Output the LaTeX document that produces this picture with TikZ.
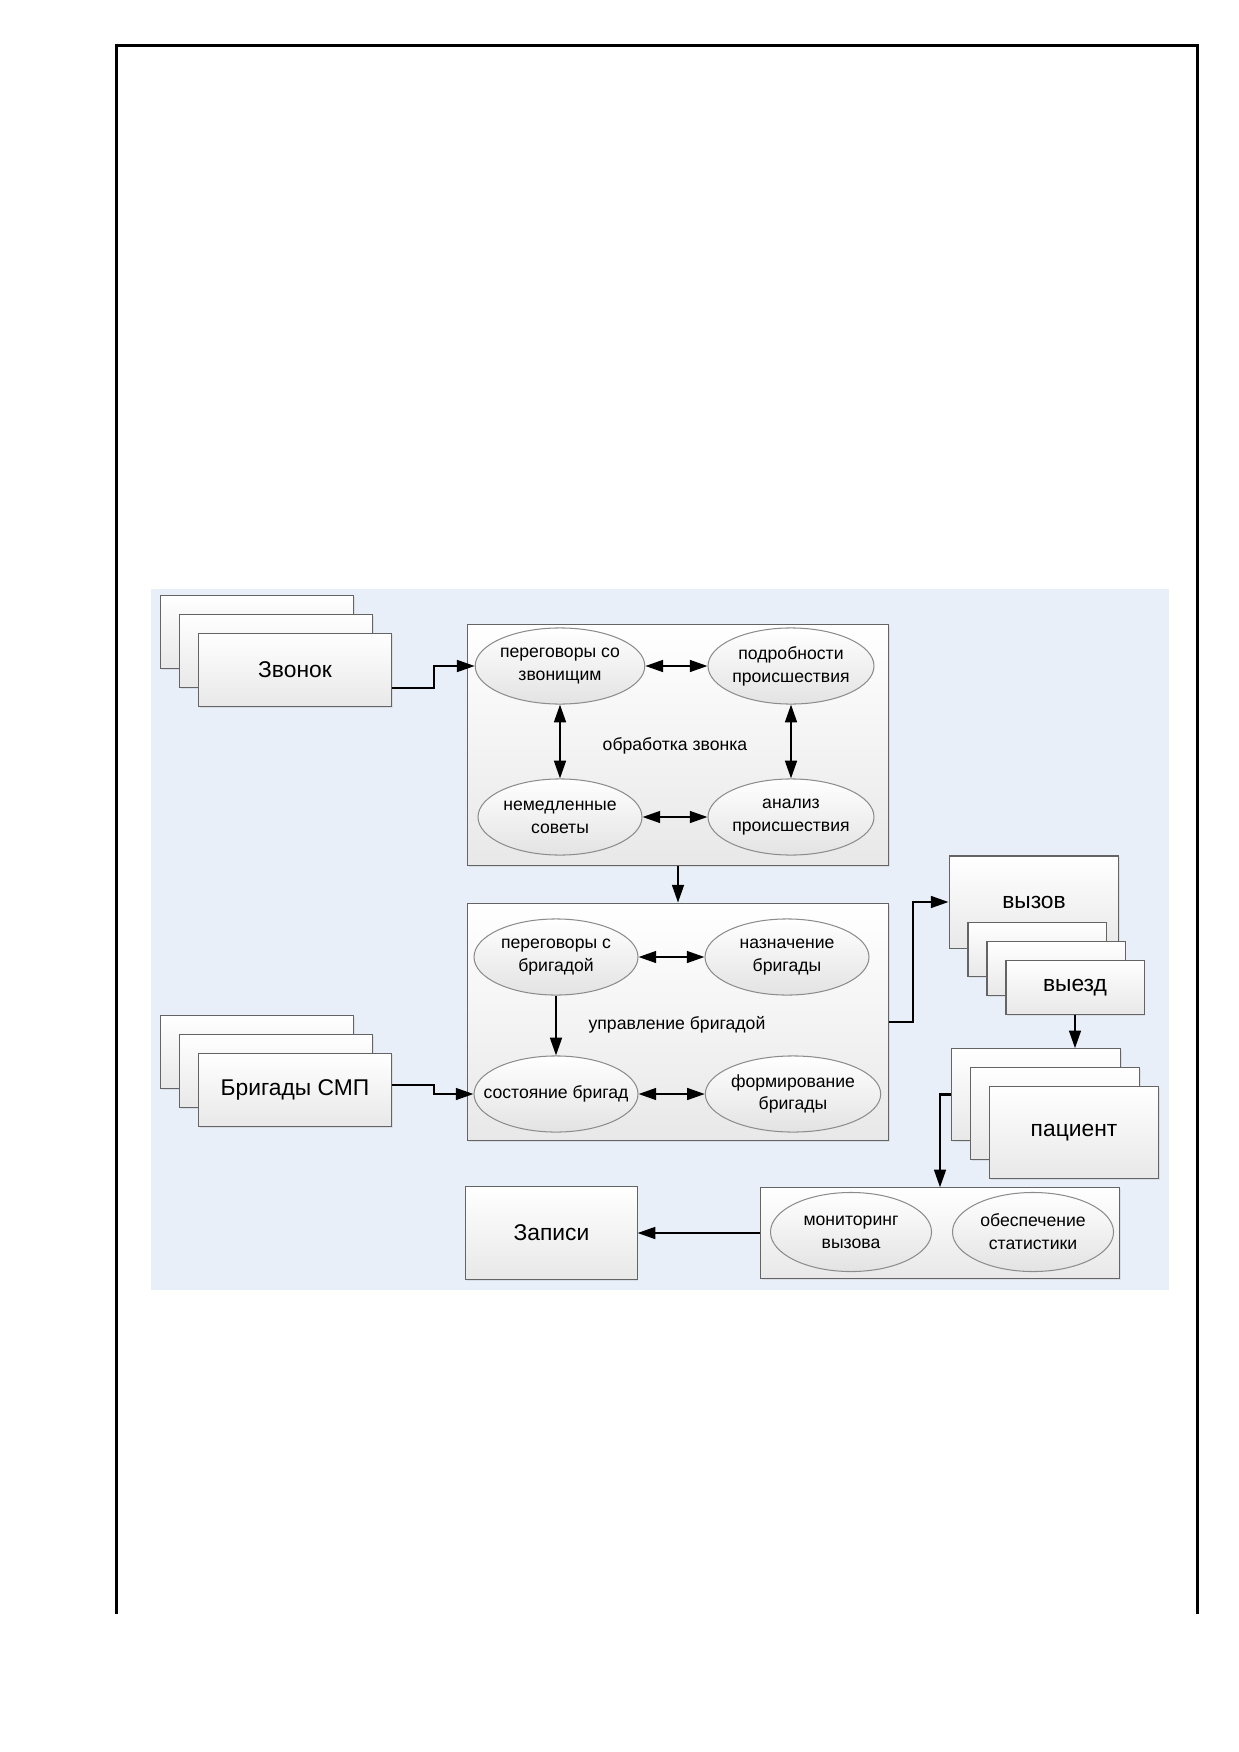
\documentclass[tikz,border=0pt]{standalone}
\usepackage{fontspec}
\setmainfont{Liberation Sans}
\usepackage{tikz}
\usetikzlibrary{arrows.meta,shapes.geometric,shadows,calc}

\definecolor{bgblue}{RGB}{233,239,249}
\definecolor{edgegray}{RGB}{100,100,100}

\begin{document}
\begin{tikzpicture}[x=0.01695cm,y=-0.01695cm,
		box/.style={draw=edgegray,line width=0.5pt,top color=white,bottom color=black!9,
			drop shadow={opacity=0.15,shadow xshift=0.7pt,shadow yshift=-0.7pt}},
		card/.style={box,minimum width=3.27cm,minimum height=1.24cm,font=\fontsize{11}{13}\selectfont},
		tab/.style={box,minimum width=2.34cm,minimum height=0.9cm,font=\fontsize{11}{13}\selectfont},
		sheet/.style={box,minimum width=2.88cm,minimum height=1.55cm,font=\fontsize{11}{13}\selectfont},
		oval/.style={ellipse,draw=black!45,line width=0.5pt,top color=white,bottom color=black!11,
			minimum width=2.78cm,minimum height=1.29cm,inner sep=0pt,align=center,
			font=\fontsize{8.5}{11}\selectfont},
		lbl/.style={font=\fontsize{8.5}{11}\selectfont},
		conn/.style={line width=1pt,-{Triangle[length=0.3cm,width=0.2cm]}},
		dbl/.style={line width=1pt,{Triangle[length=0.3cm,width=0.2cm]}-{Triangle[length=0.3cm,width=0.2cm]}}]
		\useasboundingbox (0,0) rectangle (1239,1752);
		\fill[white] (0,0) rectangle (1239,1752);
		% 绘制边框
		\draw[line width=1.3pt] (116.7,1614) -- (116.7,45.3) -- (1197.7,45.3) -- (1197.7,1614);
		% 绘制背景
		\fill[bgblue] (151,589) rectangle (1169,1290);
		% 左侧卡片
		\foreach \d in {2,1}
			\node[card] (zv\d) at (295-19*\d,670-19*\d) {};
		\node[card] (zv) at (295,670) {Звонок};
		\foreach \d in {2,1}
			\node[card] (br\d) at (295-19*\d,1090-19*\d) {};
		\node[card] (br) at (295,1090) {Бригады СМП};
		% 处理框
		\node[box,minimum width=7.15cm,minimum height=4.07cm] (obr) at (678,745) {};
		\node[lbl] (obrlbl) at (675,746) {обработка звонка};
		\node[oval] (ezv) at (560,666) {переговоры со\\звонищим};
		\node[oval] (epodr) at (791,666) {подробности\\происшествия};
		\node[oval] (enem) at (560,817) {немедленные\\советы};
		\node[oval] (eanal) at (791,817) {анализ\\происшествия};
		% 管理框
		\node[box,minimum width=7.14cm,minimum height=4.03cm] (upr) at (678,1022) {};
		\node[lbl] (uprlbl) at (677,1025) {управление бригадой};
		\node[oval] (fper) at (556,957) {переговоры с\\бригадой};
		\node[oval] (fnazn) at (787,957) {назначение\\бригады};
		\node[oval,inner xsep=-14pt] (fsost) at (556,1094) {состояние бригад};
		\node[oval] (fform) at (793,1094) {формирование\\бригады};
		% 右侧卡片
		\node[sheet,minimum height=1.56cm] (vyzov) at (1034,902) {вызов};
		\foreach \d in {2,1}
			\node[tab] (vz\d) at (1075-19*\d,987.5-19*\d) {};
		\node[tab] (vyezd) at (1075,987.5) {выезд};
		\foreach \d in {2,1}
			\node[sheet] (pac\d) at (1074-19*\d,1132.5-19*\d) {};
		\node[sheet] (pac) at (1074,1132.5) {пациент};
		% 底部
		\node[box,minimum width=6.1cm,minimum height=1.53cm] (kontr) at (940,1233) {};
		\node[oval,minimum width=2.73cm,minimum height=1.34cm] (gmon) at (851,1232) {мониторинг\\вызова};
		\node[oval,minimum width=2.73cm,minimum height=1.34cm] (gobes) at (1033,1232) {обеспечение\\статистики};
		\node[box,minimum width=2.9cm,minimum height=1.58cm,font=\fontsize{11}{13}\selectfont] (zap) at (551.5,1233) {Записи};
		% 连接线
		\draw[conn] ($(zv.east)+(0,18)$) -- ++(42,0) |- (ezv.west);
		\draw[conn] ($(br.east)+(0,-5)$) -- ++(42,0) |- (fsost.west);
		\draw[dbl] (ezv) -- (epodr);
		\draw[dbl] (ezv) -- (enem);
		\draw[dbl] (epodr) -- (eanal);
		\draw[dbl] (enem) -- (eanal);
		\draw[conn] (obr) -- (upr);
		\draw[dbl] (fper) -- (fnazn);
		\draw[conn] (fper) -- (fsost);
		\draw[dbl] (fsost) -- (fform);
		\draw[conn] (upr.east) -- ++(24,0) |- (vyzov.west);
		\draw[conn] (vyezd.south) -- (vyezd.south |- pac2.north);
		\draw[conn] (pac2.west) -| (kontr.north);
		\draw[conn] (kontr) -- (zap);
	\end{tikzpicture}
\end{document}
